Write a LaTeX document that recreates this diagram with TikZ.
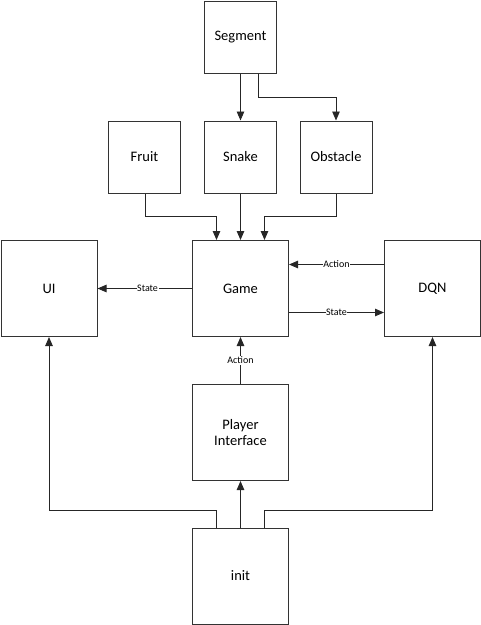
\documentclass[tikz,border=0pt]{standalone}
\usepackage{fontspec}
\setmainfont{Carlito}
\usetikzlibrary{arrows.meta}
\begin{document}
\begin{tikzpicture}[x=1pt,y=-1pt,
  box/.style={draw=black!80,line width=1pt,fill=white,inner sep=0pt,font=\fontsize{14.5}{16}\selectfont,align=center},
  conn/.style={draw=black!85,line width=0.9pt,-{Triangle[length=9pt,width=7.5pt]}},
  lbl/.style={fill=white,inner sep=0.6pt,font=\fontsize{10}{11}\selectfont}]
\useasboundingbox (0,0) rectangle (481,625);
% boxes (corner positions)
\node[box,minimum width=72pt,minimum height=72pt] (seg) at (240.5,37) {Segment};
\node[box,minimum width=72pt,minimum height=72pt] (fruit) at (144.5,157) {Fruit};
\node[box,minimum width=72pt,minimum height=72pt] (snake) at (240.5,157) {Snake};
\node[box,minimum width=72pt,minimum height=72pt] (obst) at (336,157) {Obstacle};
\node[box,minimum width=96pt,minimum height=96pt] (ui) at (49,288.5) {UI};
\node[box,minimum width=96pt,minimum height=96pt] (game) at (240.5,288.5) {Game};
\node[box,minimum width=96pt,minimum height=96pt] (dqn) at (432.5,288.5) {DQN};
\node[box,minimum width=96pt,minimum height=96pt] (pi) at (240.5,432.5) {Player\\Interface};
\node[box,minimum width=96pt,minimum height=96pt] (init) at (240.5,576) {init};
% coordinates for elbows
\coordinate (s2) at (258.5,97);
\coordinate (f1) at (145,216.5);
\coordinate (o1) at (336,216.5);
\coordinate (i1) at (216.5,510);
\coordinate (i2) at (264.5,510);
% connectors
\draw[conn] (seg.south -| snake) -- (snake.north);
\draw[conn] (seg.south -| s2) -- (s2) -| (obst.north);
\draw[conn] (fruit.south -| f1) -- (f1) -| (game.north -| i1);
\draw[conn] (snake.south) -- (game.north);
\draw[conn] (obst.south -| o1) -- (o1) -| (game.north -| i2);
\draw[conn] (game.west) -- node[lbl,pos=0.47]{State} (ui.east);
\draw[conn] (dqn.west |- 0,264.5) -- node[lbl]{Action} (game.east |- 0,264.5);
\draw[conn] (game.east |- 0,312.5) -- node[lbl]{State} (dqn.west |- 0,312.5);
\draw[conn] (pi.north) -- node[lbl,pos=0.5]{Action} (game.south);
\draw[conn] (init.north) -- (pi.south);
\draw[conn] (init.north -| i1) -- (i1) -| (ui.south);
\draw[conn] (init.north -| i2) -- (i2) -| (dqn.south);
\end{tikzpicture}
\end{document}
